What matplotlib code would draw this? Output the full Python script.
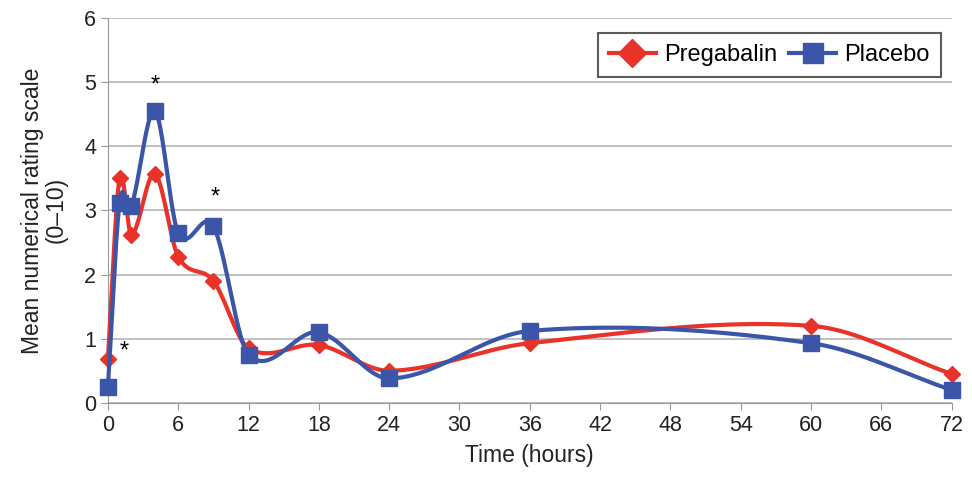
import numpy as np
import matplotlib.pyplot as plt

plt.rcParams['font.family'] = ['Liberation Sans', 'DejaVu Sans']

hours = [0, 1, 2, 4, 6, 9, 12, 18, 24, 36, 60, 72]
pregabalin = [0.69, 3.5, 2.62, 3.57, 2.28, 1.9, 0.85, 0.9, 0.5, 0.93, 1.2, 0.45]
placebo = [0.25, 3.12, 3.07, 4.55, 2.65, 2.75, 0.75, 1.1, 0.38, 1.12, 0.93, 0.2]

# significance markers (x, y)
stars_x = [1.4, 4, 9.2]
stars_y = [0.8, 4.95, 3.2]


def smooth(x, y, n=40):
    # cubic hermite with centred slopes -> smoothed line through points
    x = np.asarray(x, float)
    y = np.asarray(y, float)
    m = np.zeros(len(x))
    m[0] = (y[1] - y[0]) / (x[1] - x[0])
    m[-1] = (y[-1] - y[-2]) / (x[-1] - x[-2])
    for i in range(1, len(x) - 1):
        m[i] = (y[i + 1] - y[i - 1]) / (x[i + 1] - x[i - 1])
    px, py = [], []
    for i in range(len(x) - 1):
        h = x[i + 1] - x[i]
        t = np.linspace(0, 1, n)
        h00 = 2 * t ** 3 - 3 * t ** 2 + 1
        h10 = t ** 3 - 2 * t ** 2 + t
        h01 = -2 * t ** 3 + 3 * t ** 2
        h11 = t ** 3 - t ** 2
        px.extend(x[i] + t * h)
        py.extend(h00 * y[i] + h10 * h * m[i] + h01 * y[i + 1] + h11 * h * m[i + 1])
    return px, py


red = '#e8322a'
blue = '#3b56a8'

fig = plt.figure(figsize=(9.72, 4.83), dpi=100)
ax = fig.add_axes([0.111, 0.166, 0.868, 0.797])

sx, sy = smooth(hours, pregabalin)
ax.plot(sx, sy, color=red, lw=3, zorder=3, clip_on=False)
ax.plot(hours, pregabalin, 'D', color=red, ms=8, zorder=4, clip_on=False)
sx, sy = smooth(hours, placebo)
ax.plot(sx, sy, color=blue, lw=3, zorder=5, clip_on=False)
ax.plot(hours, placebo, 's', color=blue, ms=11, zorder=6, clip_on=False)

# legend handles
ax.plot([], [], '-D', color=red, lw=3, ms=14, label='Pregabalin')
ax.plot([], [], '-s', color=blue, lw=3, ms=14, label='Placebo')

for x, y in zip(stars_x, stars_y):
    ax.text(x, y, '*', ha='center', va='center', fontsize=17)

ax.set_xlim(0, 72)
ax.set_ylim(0, 6)
ax.set_xticks(range(0, 73, 6))
ax.set_yticks(range(0, 7))
ax.grid(axis='y', color='#b5b5b5', lw=1.2)
ax.set_axisbelow(True)
for s in ['top', 'right']:
    ax.spines[s].set_visible(False)
ax.spines['left'].set_color('#999999')
ax.spines['bottom'].set_color('#999999')
ax.tick_params(colors='#222222', labelsize=15.5, length=5, color='#999999')
ax.set_xlabel('Time (hours)', fontsize=16.5, color='#222222', labelpad=6)
ax.set_ylabel('Mean numerical rating scale\n(0\u201310)', fontsize=16.5, color='#222222',
              labelpad=12, linespacing=1.0)

leg = ax.legend(loc='upper right', ncol=2, fontsize=17, frameon=True, fancybox=False,
                handlelength=2.0, columnspacing=0.5, handletextpad=0.35,
                borderpad=0.45, borderaxespad=0, bbox_to_anchor=(0.987, 0.96))
leg.get_frame().set_edgecolor('#333333')
leg.get_frame().set_linewidth(1.5)

plt.savefig('out.png', dpi=100)
